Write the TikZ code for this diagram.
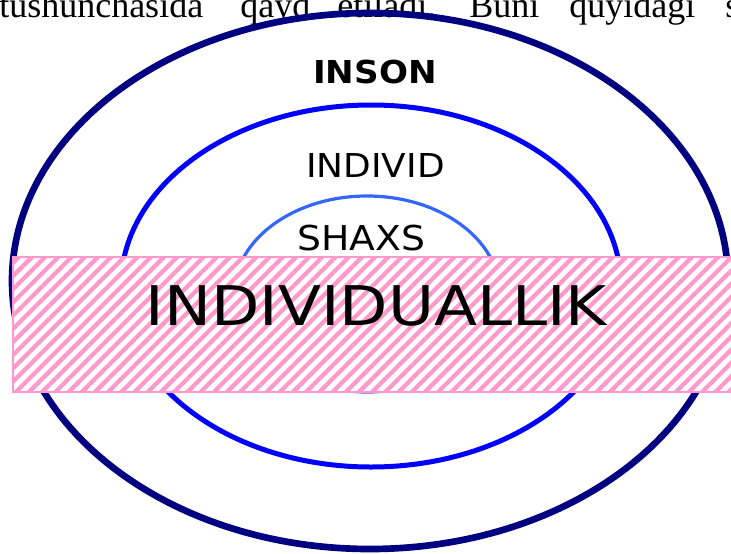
\documentclass[tikz,border=0pt]{standalone}
\usepackage{fontspec}
\setmainfont{Liberation Serif}
\newfontfamily\dvs{DejaVu Sans}
\usetikzlibrary{shapes.geometric,patterns.meta}
\definecolor{navyc}{HTML}{000080}
\definecolor{bluec}{HTML}{0000FF}
\definecolor{lightbluec}{HTML}{3366FF}
\definecolor{pinkc}{HTML}{FF99CC}
\begin{document}
\begin{tikzpicture}[x=0.75pt,y=-0.75pt,
  ell/.style={ellipse,inner sep=0pt},
  word/.style={anchor=base west,inner sep=0pt,font=\fontsize{27pt}{30pt}\selectfont},
  lbl/.style={anchor=base,inner sep=0pt,text=black}]
\useasboundingbox (0,0) rectangle (731,553);
\begin{scope}
\clip (0,0) rectangle (731,553);
% top text line (cut)
\node[word] (w1) at (-1,17.5) {tushunchasida};
\node[word] (w2) at (240,17.5) {qayd};
\node[word] (w3) at (337,17.5) {etiladi.};
\node[word] (w4) at (469,17.5) {Buni};
\node[word] (w5) at (569,17.5) {quyidagi};
\node[word] (w6) at (725,17.5) {s};
% ellipses
\node[ell,draw=navyc,line width=5pt,minimum width=537pt,minimum height=402pt] (outer) at (370,281) {};
\node[ell,draw=bluec,line width=3.75pt,minimum width=375pt,minimum height=271.5pt] (middle) at (371,286) {};
\node[ell,draw=lightbluec,line width=2.4pt,minimum width=199.5pt,minimum height=147pt] (inner) at (367,294) {};
% labels
\node[lbl,font=\dvs\bfseries\fontsize{23.7pt}{26pt}\selectfont,xscale=1.08] (inson) at (375,83) {INSON};
\node[lbl,font=\dvs\fontsize{24.7pt}{27pt}\selectfont,xscale=1.09] (individ) at (375.5,177) {INDIVID};
\node[lbl,font=\dvs\fontsize{25.7pt}{28pt}\selectfont,xscale=1.1] (shaxs) at (361.5,250) {SHAXS};
% striped band
\path[fill=white] (13,257) rectangle (745,392);
\path[pattern={Lines[angle=45,distance=7pt,line width=3.2pt]},pattern color=pinkc] (13,257) rectangle (745,392);
\node[draw=pinkc,line width=1.5pt,inner sep=0pt,minimum width=549pt,minimum height=101.25pt] (band) at (379,324.5) {};
\node[lbl,font=\dvs\fontsize{41pt}{45pt}\selectfont,xscale=1.15] (indiv) at (376.5,325) {INDIVIDUALLIK};
\end{scope}
\end{tikzpicture}
\end{document}
